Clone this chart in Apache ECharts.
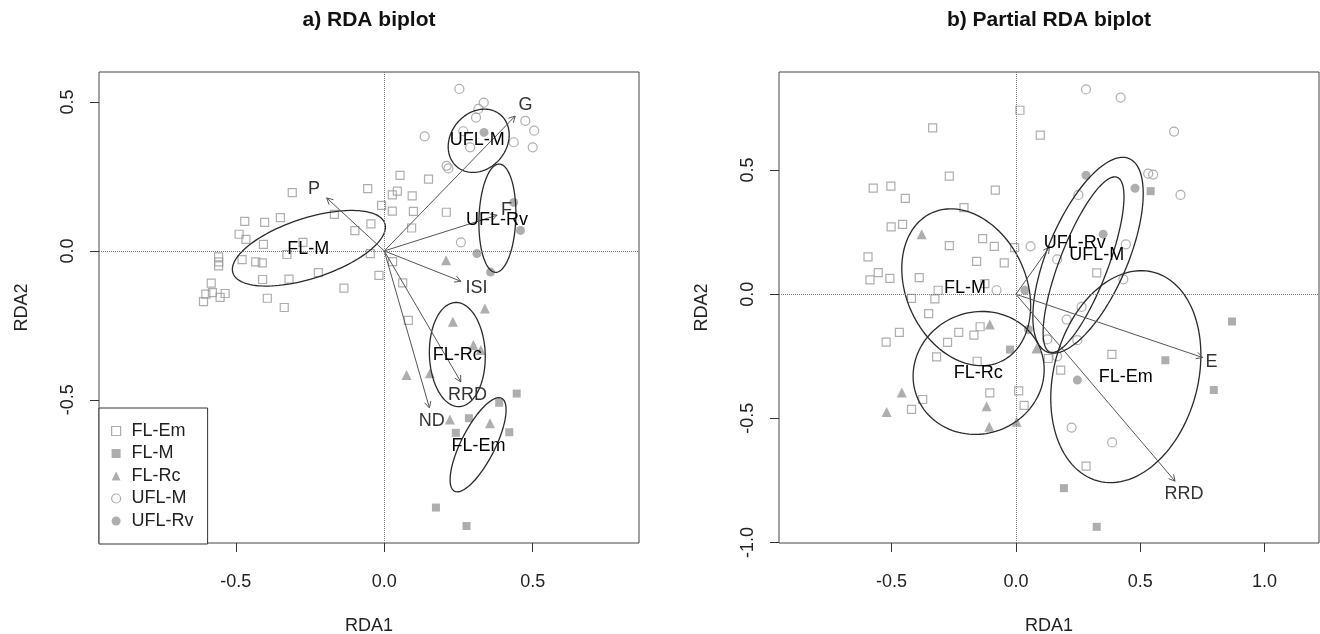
<!DOCTYPE html>
<html>
<head>
<meta charset="utf-8">
<script src="https://cdn.jsdelivr.net/npm/echarts@6/dist/echarts.min.js"></script>
<style>html,body{margin:0;padding:0;background:#fff}#c{width:1320px;height:634px}</style>
</head>
<body>
<div id="c"></div>
<script>
// ---------- DATA ----------
const groups = ['FL-Em', 'FL-M', 'FL-Rc', 'UFL-M', 'UFL-Rv'];
const tickValuesA_x = [-0.5, 0, 0.5];
const tickValuesA_y = [-0.5, 0, 0.5];
const tickValuesB_x = [-0.5, 0, 0.5, 1.0];
const tickValuesB_y = [-1.0, -0.5, 0, 0.5];

// a) RDA biplot site scores
const a_FLEm = [[-0.31,0.196],[-0.056,0.209],[-0.009,0.153],[-0.47,0.099],[-0.403,0.096],[-0.35,0.112],[-0.489,0.056],[-0.466,0.039],[-0.407,0.022],[-0.168,0.123],[-0.045,0.091],[-0.099,0.068],[-0.274,0.029],[-0.328,-0.012],[-0.479,-0.029],[-0.433,-0.037],[-0.411,-0.040],[-0.558,-0.020],[-0.558,-0.037],[-0.558,-0.050],[-0.047,-0.009],[-0.018,-0.082],[-0.222,-0.073],[-0.41,-0.096],[-0.321,-0.095],[-0.136,-0.125],[-0.583,-0.108],[-0.579,-0.140],[-0.601,-0.145],[-0.536,-0.143],[-0.553,-0.156],[-0.609,-0.170],[-0.394,-0.159],[-0.337,-0.19],[0.053,0.254],[0.149,0.241],[0.044,0.201],[0.027,0.188],[0.094,0.185],[0.027,0.134],[0.098,0.133],[0.209,0.130],[0.092,0.077],[0.028,-0.036],[0.062,-0.107],[0.081,-0.233]];
const a_FLM = [[0.446,-0.479],[0.387,-0.51],[0.285,-0.562],[0.241,-0.611],[0.421,-0.609],[0.174,-0.862],[0.277,-0.924]];
const a_FLRc = [[0.208,-0.031],[0.339,-0.193],[0.231,-0.238],[0.30,-0.316],[0.325,-0.333],[0.075,-0.417],[0.154,-0.411],[0.221,-0.566],[0.356,-0.579]];
const a_UFLM = [[0.253,0.544],[0.335,0.498],[0.317,0.477],[0.309,0.448],[0.475,0.437],[0.505,0.404],[0.136,0.385],[0.266,0.402],[0.5,0.348],[0.436,0.365],[0.289,0.348],[0.21,0.286],[0.216,0.277],[0.258,0.029]];
const a_UFLRv = [[0.336,0.398],[0.436,0.163],[0.459,0.069],[0.312,-0.009],[0.358,-0.071]];

// a) ellipses: [cx, cy, semi-major, semi-minor, angle deg]
const a_ellipses = [[-0.254,0.009,0.269,0.101,18],[0.318,0.370,0.114,0.094,50],[0.381,0.110,0.182,0.062,88],[0.246,-0.348,0.175,0.094,92],[0.316,-0.651,0.175,0.057,63]];
const a_ellipseLabels = ['FL-M','UFL-M','UFL-Rv','FL-Rc','FL-Em'];
const a_ellipseLabelPos = [[-0.256,0.005],[0.313,0.371],[0.38,0.105],[0.246,-0.35],[0.317,-0.655]];

// a) environmental vectors
const a_vectorNames = ['P','G','F','ISI','RRD','ND'];
const a_vectors = [[-0.194,0.178],[0.441,0.453],[0.38,0.12],[0.258,-0.102],[0.258,-0.44],[0.152,-0.527]];
const a_vectorLabelPos = [[-0.237,0.209],[0.476,0.489],[0.412,0.137],[0.311,-0.126],[0.28,-0.484],[0.16,-0.571]];

// b) Partial RDA biplot site scores
const b_FLEm = [[0.016,0.741],[-0.335,0.670],[0.098,0.641],[-0.268,0.476],[-0.574,0.427],[-0.503,0.435],[-0.445,0.386],[-0.083,0.419],[-0.209,0.349],[-0.502,0.271],[-0.456,0.281],[-0.595,0.150],[-0.554,0.087],[-0.587,0.058],[-0.507,0.064],[-0.389,0.067],[-0.268,0.196],[-0.134,0.224],[-0.087,0.193],[-0.005,0.188],[-0.158,0.132],[-0.047,0.126],[-0.125,0.043],[-0.313,0.016],[-0.42,-0.017],[-0.326,-0.019],[-0.351,-0.078],[-0.469,-0.154],[-0.522,-0.193],[-0.230,-0.154],[-0.275,-0.194],[-0.169,-0.165],[-0.144,-0.131],[-0.319,-0.252],[-0.156,-0.270],[-0.105,-0.397],[0.011,-0.389],[0.033,-0.448],[-0.375,-0.424],[-0.42,-0.464],[0.386,-0.242],[0.13,-0.259],[0.18,-0.306],[0.282,-0.692],[0.325,0.086]];
const b_FLM = [[0.869,-0.110],[0.601,-0.266],[0.796,-0.386],[0.193,-0.781],[0.325,-0.937],[0.542,0.415],[-0.024,-0.223]];
const b_FLRc = [[-0.379,0.242],[-0.105,-0.122],[-0.459,-0.396],[-0.52,-0.474],[-0.118,-0.451],[-0.107,-0.534],[0.003,-0.514],[0.083,-0.219]];
const b_UFLM = [[0.282,0.825],[0.421,0.792],[0.636,0.655],[0.532,0.486],[0.552,0.482],[0.662,0.400],[0.251,0.400],[0.059,0.193],[0.442,0.201],[0.166,0.140],[0.432,0.060],[0.264,-0.051],[-0.078,0.016],[0.204,-0.102],[0.126,-0.182],[0.247,-0.185],[0.166,-0.250],[0.224,-0.537],[0.387,-0.597]];
const b_UFLRv = [[0.282,0.479],[0.479,0.427],[0.351,0.242],[0.036,0.016],[0.05,-0.142],[0.247,-0.346]];

const b_ellipses = [[-0.2,0.028,0.33,0.241,-65],[-0.15,-0.317,0.266,0.245,20],[0.29,0.157,0.423,0.161,67],[0.272,0.119,0.377,0.097,69],[0.442,-0.332,0.435,0.29,75]];
const b_ellipseLabels = ['FL-M','FL-Rc','UFL-Rv','UFL-M','FL-Em'];
const b_ellipseLabelPos = [[-0.205,0.023],[-0.152,-0.317],[0.237,0.207],[0.325,0.157],[0.442,-0.335]];

const b_vectorNames = ['E','RRD',''];
const b_vectors = [[0.751,-0.255],[0.64,-0.753],[0.135,0.19]];
const b_vectorLabelPos = [[0.787,-0.272],[0.676,-0.806],[0.15,0.21]];

// ---------- STYLE ----------
const FONT = '"Liberation Sans", Arial, Helvetica, sans-serif';
const FS = 18;
const PT = '#9a9a9a';
const symbolStyle = {
  'FL-Em': {symbol:'rect', size:8, itemStyle:{color:'rgba(255,255,255,0)', borderColor:PT, borderWidth:1.2}},
  'FL-M': {symbol:'rect', size:8, itemStyle:{color:PT, borderWidth:0}},
  'FL-Rc': {symbol:'triangle', size:10, itemStyle:{color:PT, borderWidth:0}},
  'UFL-M': {symbol:'circle', size:9, itemStyle:{color:'rgba(255,255,255,0)', borderColor:PT, borderWidth:1.2}},
  'UFL-Rv': {symbol:'circle', size:9, itemStyle:{color:PT, borderWidth:0}}
};

function scatter(name, data, gi) {
  const s = symbolStyle[name];
  return {type:'scatter', name, xAxisIndex:gi, yAxisIndex:gi, data, symbol:s.symbol, symbolSize:s.size,
    itemStyle:s.itemStyle, silent:true, z:2, animation:false};
}
function ellipseSeries(data, gi) {
  return {type:'custom', xAxisIndex:gi, yAxisIndex:gi, data, silent:true, z:3, animation:false,
    encode:{x:0, y:1},
    renderItem(params, api) {
      const cx = api.value(0), cy = api.value(1), a = api.value(2), b = api.value(3), ang = api.value(4) * Math.PI / 180;
      const pts = [];
      for (let i = 0; i <= 120; i++) {
        const t = i / 120 * Math.PI * 2;
        const x = cx + a * Math.cos(t) * Math.cos(ang) - b * Math.sin(t) * Math.sin(ang);
        const y = cy + a * Math.cos(t) * Math.sin(ang) + b * Math.sin(t) * Math.cos(ang);
        pts.push(api.coord([x, y]));
      }
      return {type:'polyline', shape:{points:pts}, style:{fill:'none', stroke:'#2a2a2a', lineWidth:1.3}};
    }};
}
function vectorSeries(data, gi) {
  return {type:'custom', xAxisIndex:gi, yAxisIndex:gi, data, silent:true, z:4, animation:false,
    encode:{x:0, y:1},
    renderItem(params, api) {
      const o = api.coord([0, 0]);
      const p = api.coord([api.value(0), api.value(1)]);
      const th = Math.atan2(p[1] - o[1], p[0] - o[0]);
      const L = 7, sp = 28 * Math.PI / 180;
      const h1 = [p[0] - L * Math.cos(th - sp), p[1] - L * Math.sin(th - sp)];
      const h2 = [p[0] - L * Math.cos(th + sp), p[1] - L * Math.sin(th + sp)];
      return {type:'group', children:[
        {type:'line', shape:{x1:o[0], y1:o[1], x2:p[0], y2:p[1]}, style:{stroke:'#555', lineWidth:1}},
        {type:'polyline', shape:{points:[h1, p, h2]}, style:{fill:'none', stroke:'#555', lineWidth:1}}
      ]};
    },
    markLine:{silent:true, symbol:'none', animation:false, label:{show:false},
      lineStyle:{type:'dotted', color:'#777', width:1},
      data:[{xAxis:0}, {yAxis:0}]}
  };
}
function textSeries(pos, labels, gi, color) {
  return {type:'custom', xAxisIndex:gi, yAxisIndex:gi, data:pos, silent:true, z:5, animation:false,
    encode:{x:0, y:1},
    renderItem(params, api) {
      const p = api.coord([api.value(0), api.value(1)]);
      return {type:'text', x:p[0], y:p[1], style:{text:labels[params.dataIndex], fill:color,
        font:FS + 'px ' + FONT, align:'center', verticalAlign:'middle'}};
    }};
}

function xAxis(gi, min, max, ticks) {
  return {type:'value', gridIndex:gi, min, max, splitLine:{show:false}, axisLine:{show:false, onZero:false},
    axisTick:{show:true, customValues:ticks, length:9, lineStyle:{color:'#333', width:1}},
    axisLabel:{customValues:ticks, formatter:v => v.toFixed(1), fontSize:FS, fontFamily:FONT, color:'#222', margin:30},
    name:'RDA1', nameLocation:'middle', nameGap:74, nameTextStyle:{fontSize:FS, fontFamily:FONT, color:'#222'}};
}
function yAxis(gi, min, max, ticks) {
  return {type:'value', gridIndex:gi, min, max, splitLine:{show:false}, axisLine:{show:false, onZero:false},
    axisTick:{show:true, customValues:ticks, length:9, lineStyle:{color:'#333', width:1}},
    axisLabel:{customValues:ticks, formatter:v => v.toFixed(1), rotate:90, fontSize:FS, fontFamily:FONT, color:'#222', margin:22},
    name:'RDA2', nameLocation:'middle', nameGap:68, nameTextStyle:{fontSize:FS, fontFamily:FONT, color:'#222'}};
}

const legendIcons = {
  'FL-Em': {icon:'rect', itemStyle:{color:'rgba(255,255,255,0)', borderColor:PT, borderWidth:1.2}},
  'FL-M': {icon:'rect', itemStyle:{color:PT, borderWidth:0}},
  'FL-Rc': {icon:'triangle', itemStyle:{color:PT, borderWidth:0}},
  'UFL-M': {icon:'circle', itemStyle:{color:'rgba(255,255,255,0)', borderColor:PT, borderWidth:1.2}},
  'UFL-Rv': {icon:'circle', itemStyle:{color:PT, borderWidth:0}}
};

const gridBase = {top:72, width:540, height:471, show:true, borderColor:'#444', borderWidth:1,
  backgroundColor:'transparent', containLabel:false, outerBoundsMode:'none'};

const option = {
  backgroundColor:'#fff',
  animation:false,
  grid:[Object.assign({left:99}, gridBase), Object.assign({left:779}, gridBase)],
  xAxis:[xAxis(0, -0.961, 0.858, tickValuesA_x), xAxis(1, -0.953, 1.219, tickValuesB_x)],
  yAxis:[yAxis(0, -0.981, 0.601, tickValuesA_y), yAxis(1, -1.002, 0.895, tickValuesB_y)],
  legend:{left:99, top:408, orient:'vertical', selectedMode:false, itemWidth:9, itemHeight:9, itemGap:4.5,
    borderColor:'#333', borderWidth:1, borderRadius:0, padding:[14,14,14,12], backgroundColor:'#fff',
    textStyle:{fontSize:FS, lineHeight:18, fontFamily:FONT, color:'#222', padding:[0,0,0,6]},
    data:groups.map(g => Object.assign({name:g}, legendIcons[g]))},
  graphic:[
    {type:'text', x:369, y:20, style:{text:'a) RDA biplot', font:'bold 21px ' + FONT, fill:'#111', align:'center', verticalAlign:'middle'}},
    {type:'text', x:1049, y:20, style:{text:'b) Partial RDA biplot', font:'bold 21px ' + FONT, fill:'#111', align:'center', verticalAlign:'middle'}}
  ],
  series:[
    scatter('FL-Em', a_FLEm, 0), scatter('FL-M', a_FLM, 0), scatter('FL-Rc', a_FLRc, 0), scatter('UFL-M', a_UFLM, 0), scatter('UFL-Rv', a_UFLRv, 0),
    scatter('FL-Em', b_FLEm, 1), scatter('FL-M', b_FLM, 1), scatter('FL-Rc', b_FLRc, 1), scatter('UFL-M', b_UFLM, 1), scatter('UFL-Rv', b_UFLRv, 1),
    ellipseSeries(a_ellipses, 0), ellipseSeries(b_ellipses, 1),
    vectorSeries(a_vectors, 0), vectorSeries(b_vectors, 1),
    textSeries(a_vectorLabelPos, a_vectorNames, 0, '#333'), textSeries(b_vectorLabelPos, b_vectorNames, 1, '#333'),
    textSeries(a_ellipseLabelPos, a_ellipseLabels, 0, '#000'), textSeries(b_ellipseLabelPos, b_ellipseLabels, 1, '#000')
  ]
};
const chart = echarts.init(document.getElementById('c'), null, {renderer:'canvas'});
chart.setOption(option);
</script>
</body>
</html>
